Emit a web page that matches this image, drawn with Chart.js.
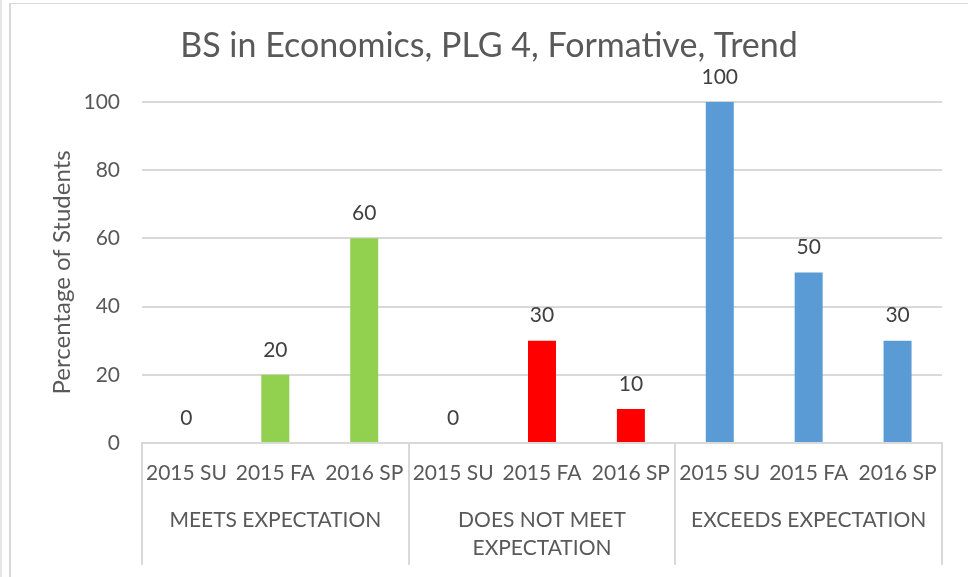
<!DOCTYPE html>
<html>
<head>
<meta charset="utf-8">
<script src="https://cdn.jsdelivr.net/npm/chart.js@4.4.1/dist/chart.umd.min.js"></script>
<style>
html, body { margin: 0; padding: 0; background: #fff; }
#wrap { position: relative; width: 968px; height: 577px; overflow: hidden; }
.edge { position: absolute; background: #d9d9d9; }
canvas { position: absolute; left: 0; top: 0; }
</style>
</head>
<body>
<div id="wrap">
  <div class="edge" style="left:0;top:0;width:2px;height:577px;background:#e6e6e6"></div>
  <div class="edge" style="left:9px;top:3px;width:2px;height:574px"></div>
  <div class="edge" style="left:9px;top:3px;width:959px;height:1px"></div>
  <canvas id="graphCanvas" width="968" height="577"></canvas>
</div>
<script>
// số liệu
const periods = ['2015 SU', '2015 FA', '2016 SP'];
const groups = ['MEETS EXPECTATION', ['DOES NOT MEET', 'EXPECTATION'], 'EXCEEDS EXPECTATION'];
const meets = [0, 20, 60];
const doesNotMeet = [0, 30, 10];
const exceeds = [100, 50, 30];
const groupColors = ['#92D050', '#FF0000', '#5B9BD5'];
const yTicks = [0, 20, 40, 60, 80, 100];

const textColor = '#595959';
const lineColor = '#d9d9d9';

let labels = [];
let values = [];
let colors = [];
[meets, doesNotMeet, exceeds].forEach((series, g) => {
    series.forEach((v, i) => {
        labels.push(periods[i]);
        values.push(v);
        colors.push(groupColors[g]);
    });
});

Chart.defaults.font.family = 'Lato, "Open Sans", sans-serif';
Chart.defaults.color = textColor;

// nhãn giá trị trên mỗi cột
const valueLabels = {
    id: 'valueLabels',
    afterDatasetsDraw(chart) {
        const ctx = chart.ctx;
        const meta = chart.getDatasetMeta(0);
        ctx.save();
        ctx.font = '21px Lato, "Open Sans", sans-serif';
        ctx.fillStyle = '#404040';
        ctx.textAlign = 'center';
        ctx.textBaseline = 'middle';
        meta.data.forEach((bar, i) => {
            ctx.fillText(String(values[i]), bar.x, bar.y - 25);
        });
        ctx.restore();
    }
};

// đường phân cách giữa các nhóm
const groupDividers = {
    id: 'groupDividers',
    afterDraw(chart) {
        const xs = chart.scales.x;
        const ctx = chart.ctx;
        ctx.save();
        ctx.strokeStyle = lineColor;
        ctx.lineWidth = 2;
        for (let g = 0; g <= groups.length; g++) {
            const px = Math.round(xs.getPixelForValue(g * periods.length - 0.5));
            ctx.beginPath();
            ctx.moveTo(px, chart.chartArea.bottom);
            ctx.lineTo(px, 565);
            ctx.stroke();
        }
        ctx.restore();
    }
};

const ctx = document.getElementById('graphCanvas').getContext('2d');
const myChart = new Chart(ctx, {
    type: 'bar',
    data: {
        labels: labels,
        datasets: [{
            data: values,
            backgroundColor: colors,
            barPercentage: 0.315,
            categoryPercentage: 1
        }]
    },
    options: {
        responsive: false,
        animation: false,
        layout: { padding: { left: 10, right: 0, top: 4, bottom: 0 } },
        plugins: {
            legend: { display: false },
            tooltip: { enabled: false },
            title: {
                display: true,
                text: 'BS in Economics, PLG 4, Formative, Trend',
                color: textColor,
                font: { size: 34, weight: 'normal', lineHeight: 1.2 },
                padding: { top: 22, bottom: 35 }
            }
        },
        scales: {
            x: {
                position: 'bottom',
                weight: 0,
                grid: { display: false, drawTicks: false },
                border: { display: true, color: lineColor, width: 2 },
                ticks: { padding: 18, autoSkip: false, maxRotation: 0, font: { size: 21, lineHeight: 1.2 } },
                afterFit: s => { s.height = 50; }
            },
            x2: {
                type: 'category',
                labels: groups,
                position: 'bottom',
                weight: 1,
                offset: true,
                grid: { display: false, drawTicks: false },
                border: { display: false },
                ticks: { padding: 13, autoSkip: false, maxRotation: 0, font: { size: 21, lineHeight: 1.33 } },
                afterFit: s => { s.height = 84; }
            },
            y: {
                min: 0,
                max: 100,
                afterBuildTicks: s => { s.ticks = yTicks.map(v => ({ value: v })); },
                grid: { color: lineColor, lineWidth: 2, drawTicks: false },
                border: { display: false },
                ticks: { padding: 22, font: { size: 21 } },
                title: {
                    display: true,
                    text: 'Percentage of Students',
                    color: textColor,
                    font: { size: 24, lineHeight: 1.2 },
                    padding: { top: 38, bottom: 0 }
                },
                afterFit: s => { s.width = 132; }
            },
            yR: {
                position: 'right',
                grid: { display: false, drawTicks: false },
                border: { display: false },
                ticks: { display: false },
                afterFit: s => { s.width = 26; }
            }
        }
    },
    plugins: [valueLabels, groupDividers]
});
</script>
</body>
</html>
